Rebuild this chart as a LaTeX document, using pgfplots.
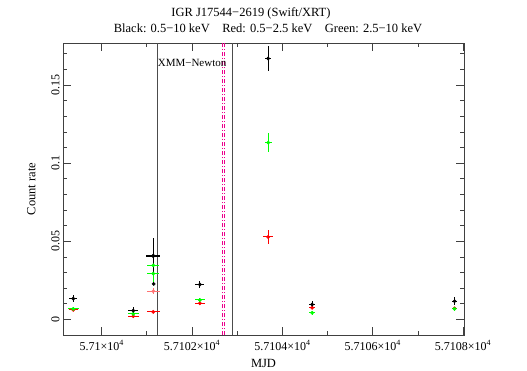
\documentclass[border=0pt]{standalone}
\usepackage{fontspec}
\setmainfont{Liberation Serif}
\usepackage{pgfplots}
\pgfplotsset{compat=1.18}

\begin{document}
\begin{tikzpicture}
\begin{axis}[
    scale only axis,
    width=401pt, height=292pt,
    xmin=57099.144, xmax=57108.02,
    ymin=-0.0099, ymax=0.1769,
    scaled x ticks=false, scaled y ticks=false,
    axis line style={black!75, line width=0.8pt},
    tick align=inside,
    major tick length=8pt, minor tick length=4pt,
    every tick/.style={black!75, line width=0.8pt},
    xtick={57100,57102,57104,57106,57108},
    xticklabels={5.71×10\textsuperscript{4},5.7102×10\textsuperscript{4},5.7104×10\textsuperscript{4},5.7106×10\textsuperscript{4},5.7108×10\textsuperscript{4}},
    minor xtick={57101,57103,57105,57107},
    ytick={0,0.05,0.1,0.15},
    yticklabels={0,0.05,0.1,0.15},
    minor ytick={0.01,0.02,0.03,0.04,0.06,0.07,0.08,0.09,0.11,0.12,0.13,0.14,0.16,0.17},
    yticklabel style={rotate=90, anchor=south, font=\fontsize{12}{14}\selectfont},
    xticklabel style={font=\fontsize{12}{14}\selectfont, yshift=-2pt},
    xlabel={MJD}, ylabel={Count rate},
    label style={font=\fontsize{12.5}{15}\selectfont},
    xlabel style={yshift=-2pt},
    ylabel style={yshift=9pt},
    clip=false,
    err/.style={only marks, mark=*, mark size=1.7pt,
        error bars/.cd, x dir=both, x explicit, y dir=both, y explicit,
        error mark=none, error bar style={line width=1pt}},
]
% XMM-Newton window and reference lines
\addplot[black!70, line width=1pt] coordinates {(57101.239,-0.0099) (57101.239,0.1769)};
\addplot[black!70, line width=1pt] coordinates {(57102.889,-0.0099) (57102.889,0.1769)};
\addplot[magenta, line width=0.9pt, dash pattern=on 4pt off 2pt on 1pt off 2pt] coordinates {(57102.668,-0.0099) (57102.668,0.1769)};
\addplot[magenta, line width=0.9pt, dash pattern=on 4pt off 2pt on 1pt off 2pt] coordinates {(57102.728,-0.0099) (57102.728,0.1769)};

% red: 0.5-2.5 keV
\addplot[red, mark options={fill=red}, err] coordinates {
    (57099.372,0.0062) +- (0.10,0.0010)
    (57100.699,0.0021) +- (0.12,0.0010)
    (57101.142,0.0049) +- (0.14,0.0008)
    (57102.175,0.0104) +- (0.12,0.0012)
    (57103.686,0.0528) +- (0.11,0.0045)
    (57104.659,0.0075) +- (0.06,0.0010)
    (57107.810,0.0072) +- (0.06,0.0010)
};
\addplot[red!55, mark options={fill=red!55}, err] coordinates {
    (57101.142,0.0181) +- (0.14,0.0020)
};
% green: 2.5-10 keV
\addplot[green, mark options={fill=green}, err] coordinates {
    (57099.372,0.0068) +- (0.12,0.0012)
    (57100.699,0.0036) +- (0.12,0.0010)
    (57101.142,0.0347) +- (0.13,0.0035)
    (57101.142,0.0294) +- (0.13,0.0060)
    (57102.175,0.0125) +- (0.12,0.0015)
    (57103.686,0.1132) +- (0.08,0.0062)
    (57104.659,0.0043) +- (0.06,0.0012)
    (57107.810,0.0068) +- (0.06,0.0012)
};
% black: 0.5-10 keV
\addplot[black, mark options={fill=black}, err] coordinates {
    (57099.372,0.0134) +- (0.09,0.0025)
    (57100.699,0.0057) +- (0.11,0.0022)
    (57101.142,0.0409) +- (0.15,0.0110)
    (57101.142,0.0405) +- (0.15,0.0020)
    (57101.150,0.0228) +- (0.0,0.0010)
    (57102.175,0.0224) +- (0.10,0.0025)
    (57103.686,0.1670) +- (0.07,0.0079)
    (57104.659,0.0096) +- (0.06,0.0025)
    (57107.810,0.0117) +- (0.06,0.0025)
};
\node[anchor=west, inner sep=0pt, font=\fontsize{11}{13}\selectfont]
    at (axis cs:57101.239,0.164) {XMM−Newton};
\coordinate (sw) at (rel axis cs:0,0);
\coordinate (ne) at (rel axis cs:1,1);
\end{axis}
\pgfresetboundingbox
\path ([shift={(-63pt,-35pt)}]sw) rectangle ([shift={(63pt,43pt)}]ne);
\path (sw) ++(188pt,0) coordinate (tc);
\node[font=\fontsize{12.5}{15}\selectfont] at (tc |- ne) [yshift=30pt] {IGR J17544−2619 (Swift/XRT)};
\path (sw) ++(205pt,0) coordinate (tc2);
\node[font=\fontsize{12.5}{15}\selectfont] at (tc2 |- ne) [yshift=15pt] {Black: 0.5−10 keV\quad Red: 0.5−2.5 keV\quad Green: 2.5−10 keV};
\end{tikzpicture}
\end{document}
